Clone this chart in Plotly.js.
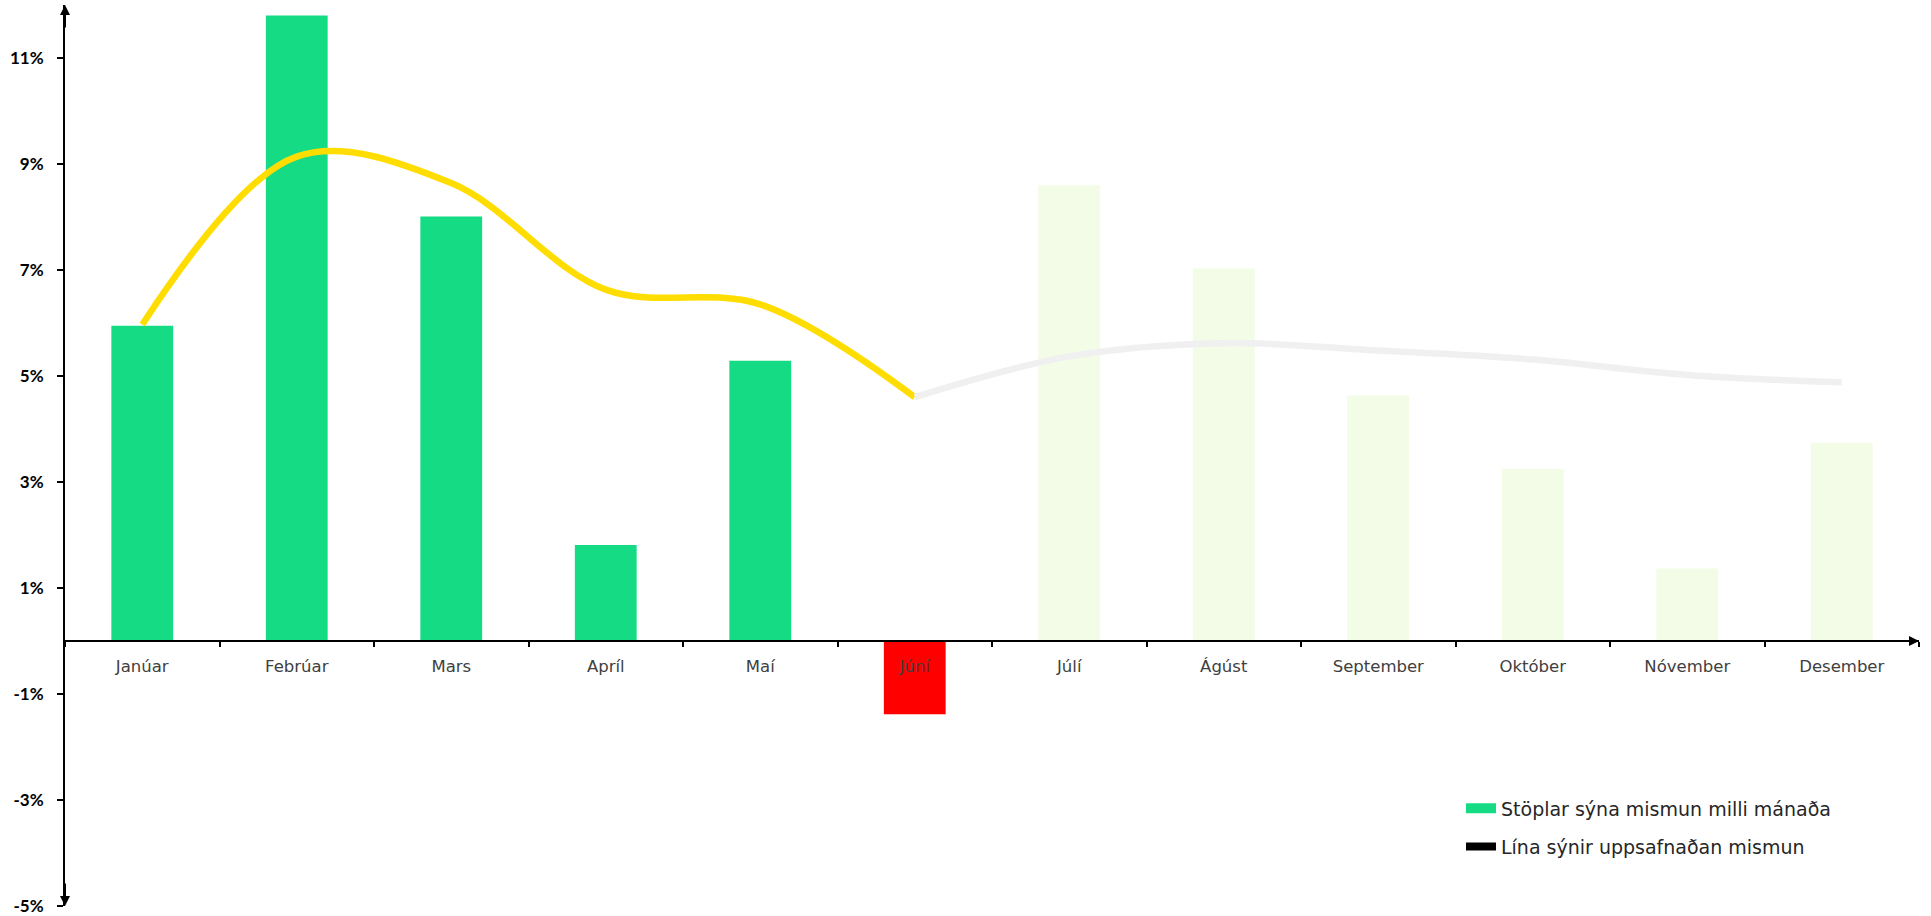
<!DOCTYPE html>
<html>
<head>
<meta charset="utf-8">
<script src="https://cdn.plot.ly/plotly-3.0.1.min.js"></script>
<style>
  html, body { margin: 0; padding: 0; background: #ffffff; }
  #chart { width: 1931px; height: 916px; }
</style>
</head>
<body>
<div id="chart"></div>
<script>
// ---- Data ----
const months = ["Janúar", "Febrúar", "Mars", "Apríl", "Maí", "Júní", "Júlí", "Ágúst", "September", "Október", "Nóvember", "Desember"];
const monthlyDiff = [5.95, 11.8, 8.01, 1.81, 5.29, -1.38, 8.6, 7.03, 4.63, 3.25, 1.37, 3.74];
const cumulativeDiff = [5.97, 9.14, 8.64, 6.63, 6.35, 4.60, 5.37, 5.62, 5.48, 5.31, 5.02, 4.88];
const lastActualIndex = 5; // Júní is the latest month with real data
const yTickValues = [-5, -3, -1, 1, 3, 5, 7, 9, 11];
const yTickLabels = ["-5%", "-3%", "-1%", "1%", "3%", "5%", "7%", "9%", "11%"];
const legendBarLabel = "Stöplar sýna mismun milli mánaða";
const legendLineLabel = "Lína sýnir uppsafnaðan mismun";
const yRange = [-5, 12];

// ---- Styles ----
const GREEN = "#15DC84";
const RED = "#FF0000";
const PALE = "#F2FCE6";
const YELLOW = "#FFDD00";
const GREY = "#F0F0F0";

const barColors = monthlyDiff.map((v, i) => i > lastActualIndex ? PALE : (v < 0 ? RED : GREEN));

const actualMonths = months.slice(0, lastActualIndex + 1);
const actualCum = cumulativeDiff.slice(0, lastActualIndex + 1);
const futureMonths = months.slice(lastActualIndex);
const futureCum = cumulativeDiff.slice(lastActualIndex);

const traces = [
  {
    type: "bar", x: months, y: monthlyDiff,
    marker: { color: barColors, line: { width: 0 } },
    width: 0.4, showlegend: false, hoverinfo: "skip"
  },
  {
    type: "scatter", mode: "lines", x: actualMonths, y: actualCum,
    line: { color: YELLOW, width: 6.5, shape: "spline", smoothing: 1 },
    showlegend: false, hoverinfo: "skip"
  },
  {
    type: "scatter", mode: "lines", x: futureMonths, y: futureCum,
    line: { color: GREY, width: 6.5, shape: "spline", smoothing: 1 },
    showlegend: false, hoverinfo: "skip"
  },
  {
    type: "scatter", mode: "lines", x: [null], y: [null], name: legendBarLabel,
    line: { color: GREEN, width: 11 }, showlegend: true, legend: "legend"
  },
  {
    type: "scatter", mode: "lines", x: [null], y: [null], name: legendLineLabel,
    line: { color: "#000000", width: 8 }, showlegend: true, legend: "legend2"
  }
];

const zeroPos = (0 - yRange[0]) / (yRange[1] - yRange[0]);

const legendFont = { family: "DejaVu Sans", size: 19, color: "#262626" };

const layout = {
  width: 1931, height: 916,
  margin: { l: 65, r: 12, t: 5, b: 10, pad: 0 },
  paper_bgcolor: "#ffffff", plot_bgcolor: "#ffffff",
  showlegend: true,
  barmode: "overlay",
  xaxis: {
    type: "category",
    range: [-0.5, months.length - 0.5],
    anchor: "free", position: zeroPos,
    showline: true, linecolor: "#000000", linewidth: 2,
    ticks: "outside", tickson: "boundaries", ticklen: 5, tickwidth: 2, tickcolor: "#000000",
    showgrid: false, zeroline: false,
    tickfont: { family: "DejaVu Sans", size: 16.5, color: "#404040" },
    ticklabelstandoff: 10,
    fixedrange: true
  },
  yaxis: {
    range: yRange,
    tickvals: yTickValues, ticktext: yTickLabels,
    showline: true, linecolor: "#000000", linewidth: 2,
    ticks: "outside", ticklen: 6, tickwidth: 2, tickcolor: "#000000",
    showgrid: false, zeroline: false,
    tickfont: { family: "Lato", size: 17, color: "#000000", weight: "bold" },
    ticklabelstandoff: 10,
    fixedrange: true
  },
  legend: {
    x: (1461 - 65) / 1854, y: 0.1083, xanchor: "left", yanchor: "middle",
    bgcolor: "rgba(0,0,0,0)", borderwidth: 0, font: legendFont
  },
  legend2: {
    x: (1461 - 65) / 1854, y: 0.0658, xanchor: "left", yanchor: "middle",
    bgcolor: "rgba(0,0,0,0)", borderwidth: 0, font: legendFont
  },
  annotations: [
    { xref: "paper", yref: "paper", x: 0, y: 1, ax: 0, ay: 24, text: "", showarrow: true,
      arrowhead: 2, arrowsize: 1, arrowwidth: 2, arrowcolor: "#000000" },
    { xref: "paper", yref: "paper", x: 0, y: 0, ax: 0, ay: -24, text: "", showarrow: true,
      arrowhead: 2, arrowsize: 1, arrowwidth: 2, arrowcolor: "#000000" },
    { xref: "paper", yref: "paper", x: 1, y: zeroPos, ax: -24, ay: 0, text: "", showarrow: true,
      arrowhead: 2, arrowsize: 1, arrowwidth: 2, arrowcolor: "#000000" }
  ]
};

Plotly.newPlot("chart", traces, layout, { displayModeBar: false, staticPlot: true });
</script>
</body>
</html>
